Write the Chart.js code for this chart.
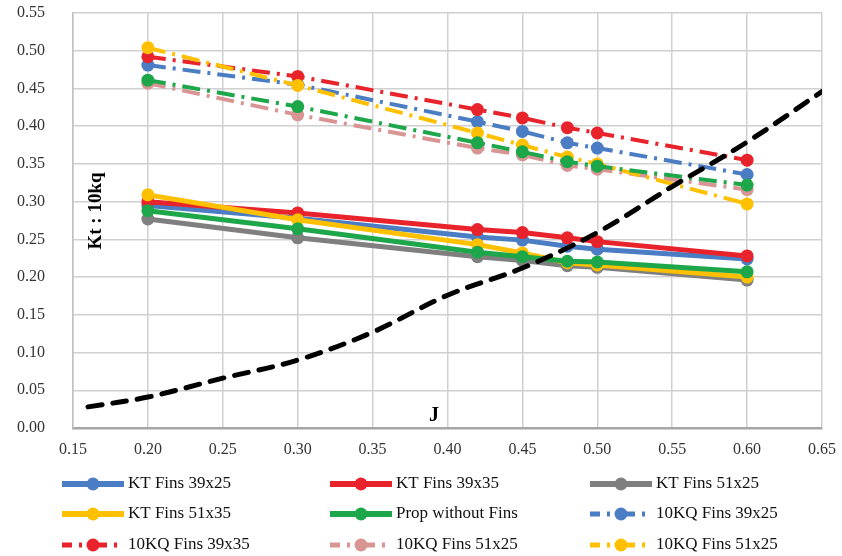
<!DOCTYPE html>
<html>
<head>
<meta charset="utf-8">
<script src="https://cdn.jsdelivr.net/npm/chart.js@4.4.1/dist/chart.umd.min.js"></script>
<style>
  html, body { margin: 0; padding: 0; background: #fff; }
  #wrap { width: 842px; height: 556px; }
</style>
</head>
<body>
<div id="wrap"><canvas id="myChart" width="842" height="556"></canvas></div>
<script>
// advance ratio J at which the propeller was tested
var J = [0.20, 0.30, 0.42, 0.45, 0.48, 0.50, 0.60];

// thrust coefficient KT
var ktFins39x25 = [0.295, 0.278, 0.253, 0.249, 0.241, 0.237, 0.224];
var ktFins39x35 = [0.300, 0.285, 0.263, 0.259, 0.252, 0.247, 0.228];
var ktFins51x25 = [0.277, 0.252, 0.227, 0.222, 0.215, 0.213, 0.196];
var ktFins51x35 = [0.309, 0.276, 0.243, 0.232, 0.219, 0.216, 0.200];
var ktNoFins    = [0.288, 0.264, 0.233, 0.227, 0.221, 0.220, 0.207];

// torque coefficient 10KQ
var kqFins39x25 = [0.481, 0.455, 0.406, 0.393, 0.378, 0.371, 0.336];
var kqFins39x35 = [0.492, 0.466, 0.422, 0.411, 0.398, 0.391, 0.355];
var kqFins51x25 = [0.457, 0.415, 0.371, 0.362, 0.348, 0.343, 0.316];
var kqFins51x35 = [0.504, 0.454, 0.391, 0.375, 0.359, 0.350, 0.297];
var kqNoFins    = [0.461, 0.426, 0.378, 0.366, 0.353, 0.347, 0.322];

// black dashed curve (no legend entry)
var curveJ   = [0.16, 0.20, 0.25, 0.30, 0.35, 0.40, 0.45, 0.50, 0.55, 0.60, 0.65];
var curveVal = [0.028, 0.041, 0.066, 0.090, 0.127, 0.176, 0.212, 0.259, 0.320, 0.379, 0.446];

var xTicks = ['0.15','0.20','0.25','0.30','0.35','0.40','0.45','0.50','0.55','0.60','0.65'];
var yTicks = ['0.00','0.05','0.10','0.15','0.20','0.25','0.30','0.35','0.40','0.45','0.50','0.55'];

var legendLabels = ['KT Fins 39x25', 'KT Fins 39x35', 'KT Fins 51x25',
                    'KT Fins 51x35', 'Prop without Fins', '10KQ Fins 39x25',
                    '10KQ Fins 39x35', '10KQ Fins 51x25', '10KQ Fins 51x25'];

var BLUE = '#4a7dc4', RED = '#e8232b', GRAY = '#7f7f7f', YELLOW = '#ffc000',
    GREEN = '#1ea64a', PINK = '#d99594';
var KQDASH = [18, 7, 3, 7];
var SERIF = '"Liberation Serif", "Times New Roman", serif';

function pts(xs, ys) {
    return xs.map(function (x, i) { return { x: x, y: ys[i] }; });
}

function solid(label, vals, color) {
    return {
        label: label, data: pts(J, vals),
        borderColor: color, backgroundColor: color,
        borderWidth: 5, pointRadius: 6.5, pointHoverRadius: 6.5,
        pointBorderWidth: 0, tension: 0, showInLegend: true
    };
}

function dashed(label, vals, color, inLegend) {
    return {
        label: label, data: pts(J, vals),
        borderColor: color, backgroundColor: color,
        borderWidth: 4, borderDash: KQDASH, pointRadius: 6.5, pointHoverRadius: 6.5,
        pointBorderWidth: 0, tension: 0, showInLegend: inLegend
    };
}

var datasets = [
    solid(legendLabels[0], ktFins39x25, BLUE),
    solid(legendLabels[1], ktFins39x35, RED),
    solid(legendLabels[2], ktFins51x25, GRAY),
    solid(legendLabels[3], ktFins51x35, YELLOW),
    solid(legendLabels[4], ktNoFins, GREEN),
    dashed(legendLabels[5], kqFins39x25, BLUE, true),
    dashed(legendLabels[6], kqFins39x35, RED, true),
    dashed(legendLabels[7], kqFins51x25, PINK, true),
    dashed(legendLabels[8], kqFins51x35, YELLOW, true),
    dashed('10KQ Prop without Fins', kqNoFins, GREEN, false),
    {
        label: 'curve', data: pts(curveJ, curveVal),
        borderColor: '#000', borderWidth: 5, borderDash: [14, 11],
        borderCapStyle: 'round', pointRadius: 0, tension: 0.35,
        showInLegend: false
    }
];
// later series are painted over earlier ones (Excel style)
datasets.forEach(function (d, i) { d.order = datasets.length - i; });

// axis titles drawn inside the plot area, like the original
var axisTitles = {
    id: 'axisTitles',
    afterDatasetsDraw: function (chart) {
        var ctx = chart.ctx, a = chart.chartArea;
        ctx.save();
        ctx.fillStyle = '#000';
        ctx.font = 'bold 19px ' + SERIF;
        ctx.textAlign = 'center';
        ctx.textBaseline = 'middle';
        ctx.translate(a.left + 23, a.top + 198);
        ctx.rotate(-Math.PI / 2);
        ctx.fillText('Kt : 10kq', 0, 0);
        ctx.restore();
        ctx.save();
        ctx.fillStyle = '#000';
        ctx.font = 'bold 20px ' + SERIF;
        ctx.textAlign = 'center';
        ctx.textBaseline = 'middle';
        ctx.fillText('J', a.left + 361, a.bottom - 12);
        ctx.restore();
    }
};

// 3x3 legend under the axis
var gridLegend = {
    id: 'gridLegend',
    afterDraw: function (chart) {
        var ctx = chart.ctx;
        var cols = [62, 330, 590], rows = [484, 514, 545];
        var items = chart.data.datasets.filter(function (d) { return d.showInLegend; });
        items.forEach(function (d, i) {
            var x0 = cols[i % 3], y = rows[Math.floor(i / 3)];
            ctx.save();
            ctx.strokeStyle = d.borderColor;
            ctx.lineWidth = d.borderWidth + 1;
            if (d.borderDash) {
                ctx.setLineDash(d.borderDash);
                ctx.lineDashOffset = 8;
            }
            ctx.beginPath();
            ctx.moveTo(x0, y);
            ctx.lineTo(x0 + 62, y);
            ctx.stroke();
            ctx.setLineDash([]);
            ctx.fillStyle = d.borderColor;
            ctx.beginPath();
            ctx.arc(x0 + 31, y, 6.5, 0, Math.PI * 2);
            ctx.fill();
            ctx.fillStyle = '#111';
            ctx.font = '17px ' + SERIF;
            ctx.textAlign = 'left';
            ctx.textBaseline = 'middle';
            ctx.fillText(d.label, x0 + 66, y);
            ctx.restore();
        });
    }
};

var ctx = document.getElementById('myChart').getContext('2d');
var myChart = new Chart(ctx, {
    type: 'line',
    data: { datasets: datasets },
    options: {
        responsive: false,
        animation: false,
        layout: { padding: { top: 13, right: 20, left: 0, bottom: 88 } },
        plugins: {
            legend: { display: false },
            tooltip: { enabled: false }
        },
        scales: {
            x: {
                type: 'linear', min: 0.15, max: 0.65,
                afterBuildTicks: function (scale) {
                    scale.ticks = xTicks.map(function (t) { return { value: parseFloat(t) }; });
                },
                afterFit: function (scale) {
                    scale.height = 40;
                    scale.paddingLeft = 0; scale.paddingRight = 0;
                },
                ticks: {
                    autoSkip: false, maxRotation: 0, padding: 12,
                    color: '#333', font: { family: SERIF, size: 16 },
                    callback: function (v) { return v.toFixed(2); }
                },
                grid: { color: '#d0d0d0', lineWidth: 1.5, drawTicks: false },
                border: { color: '#a6a6a6', width: 2.5 }
            },
            y: {
                min: 0, max: 0.55,
                afterBuildTicks: function (scale) {
                    scale.ticks = yTicks.map(function (t) { return { value: parseFloat(t) }; });
                },
                afterFit: function (scale) {
                    scale.width = 73;
                    scale.paddingTop = 0; scale.paddingBottom = 0;
                },
                ticks: {
                    padding: 28, color: '#333', font: { family: SERIF, size: 16 },
                    callback: function (v) { return v.toFixed(2); }
                },
                grid: { color: '#d0d0d0', lineWidth: 1.5, drawTicks: false },
                border: { color: '#c0c0c0', width: 1.5 }
            }
        }
    },
    plugins: [axisTitles, gridLegend]
});
</script>
</body>
</html>
